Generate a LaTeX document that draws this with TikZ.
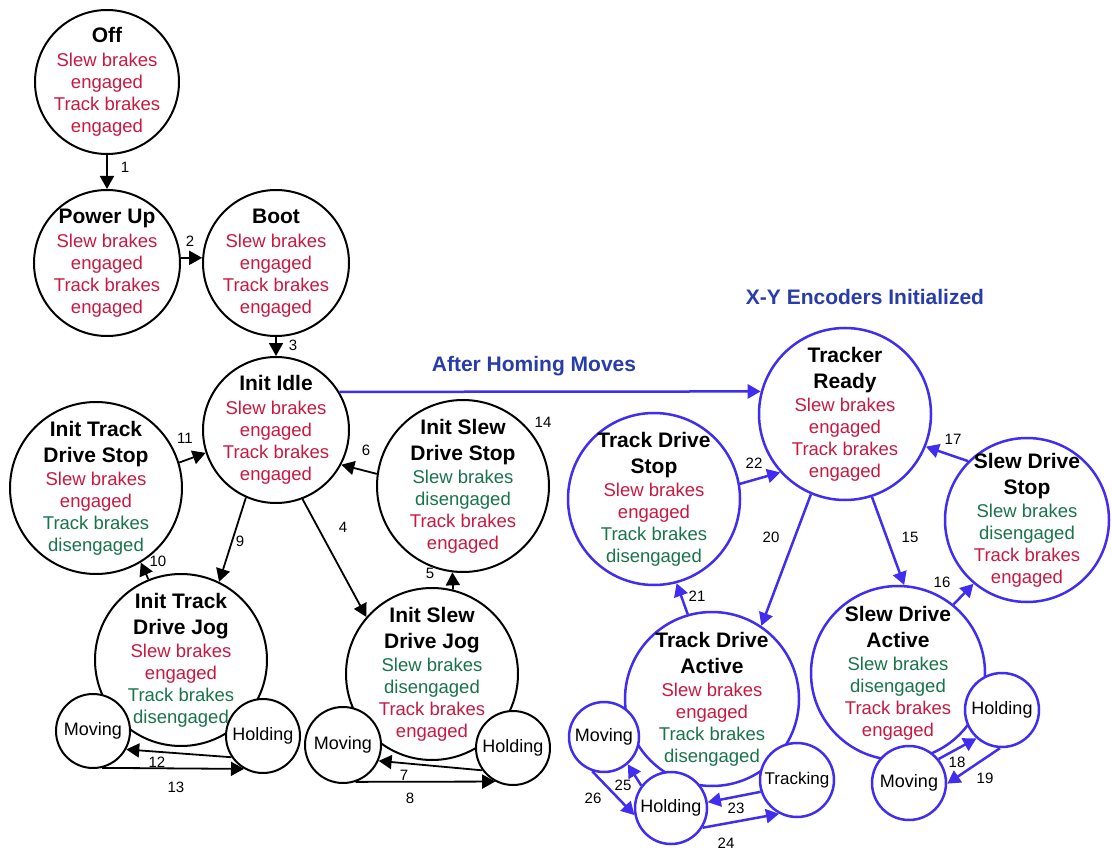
\documentclass[tikz,border=0pt]{standalone}
\usepackage{fontspec}
\setmainfont{Liberation Sans}
\usetikzlibrary{arrows.meta}
\definecolor{sred}{RGB}{200,25,65}
\definecolor{sgreen}{RGB}{25,115,75}
\definecolor{sblue}{RGB}{65,45,240}
\definecolor{tblue}{RGB}{40,60,170}
\newcommand\sttl[1]{{\fontsize{21}{26}\selectfont\bfseries #1}}
\newcommand\rtx[1]{\textcolor{sred}{#1}}
\newcommand\gtx[1]{\textcolor{sgreen}{#1}}
\begin{document}
\begin{tikzpicture}[x=1pt,y=-1pt,
  bst/.style={circle,draw=black,line width=2pt,fill=white,inner sep=0pt},
  ust/.style={circle,draw=sblue,line width=2.5pt,fill=white,inner sep=0pt},
  txt/.style={align=center,font=\fontsize{18.5}{22}\selectfont,inner sep=0pt},
  small/.style={font=\fontsize{18}{22}\selectfont},
  arr/.style={draw=black,line width=1.8pt,-{Triangle[length=13pt,width=14pt]}},
  uarr/.style={draw=sblue,line width=2.5pt,-{Triangle[length=13pt,width=14pt]}},
  num/.style={font=\fontsize{15}{17}\selectfont,inner sep=0pt},
  hdr/.style={font=\fontsize{21}{25}\selectfont\bfseries,text=tblue,inner sep=0pt}
]
\useasboundingbox[fill=white] (0,0) rectangle (1112,853);

% ---------- black states ----------
\node[bst,minimum size=144pt,label={[txt]center:{\sttl{Off}\\[2pt]\rtx{Slew brakes}\\\rtx{engaged}\\\rtx{Track brakes}\\\rtx{engaged}}}] (off) at (107,82) {};
\node[bst,minimum size=146pt,label={[txt]center:{\sttl{Power Up}\\[2pt]\rtx{Slew brakes}\\\rtx{engaged}\\\rtx{Track brakes}\\\rtx{engaged}}}] (pu) at (107,263) {};
\node[bst,minimum size=146pt,label={[txt]center:{\sttl{Boot}\\[2pt]\rtx{Slew brakes}\\\rtx{engaged}\\\rtx{Track brakes}\\\rtx{engaged}}}] (boot) at (276,263) {};
\node[bst,minimum size=146pt,label={[txt]center:{\sttl{Init Idle}\\[2pt]\rtx{Slew brakes}\\\rtx{engaged}\\\rtx{Track brakes}\\\rtx{engaged}}}] (idle) at (276,430) {};
\node[bst,minimum size=172pt,label={[txt]center:{\sttl{Init Track}\\[4pt]\sttl{Drive Stop}\\[1pt]\rtx{Slew brakes}\\\rtx{engaged}\\\gtx{Track brakes}\\\gtx{disengaged}}}] (itds) at (96,488) {};
\node[bst,minimum size=172pt,label={[txt]center:{\sttl{Init Slew}\\[4pt]\sttl{Drive Stop}\\[1pt]\gtx{Slew brakes}\\\gtx{disengaged}\\\rtx{Track brakes}\\\rtx{engaged}}}] (isds) at (463,486) {};
\node[bst,minimum size=172pt,label={[txt]center:{\sttl{Init Track}\\[4pt]\sttl{Drive Jog}\\[1pt]\rtx{Slew brakes}\\\rtx{engaged}\\\gtx{Track brakes}\\\gtx{disengaged}}}] (itdj) at (181,660) {};
\node[bst,minimum size=172pt,label={[txt]center:{\sttl{Init Slew}\\[4pt]\sttl{Drive Jog}\\[1pt]\gtx{Slew brakes}\\\gtx{disengaged}\\\rtx{Track brakes}\\\rtx{engaged}}}] (isdj) at (432,674) {};
\node[bst,small,minimum size=74pt] (movL) at (93,731) {Moving};
\node[bst,small,minimum size=74pt] (holdL) at (263,736) {Holding};
\node[bst,small,minimum size=76pt] (movM) at (343,745) {Moving};
\node[bst,small,minimum size=74pt] (holdM) at (513,748) {Holding};

% ---------- blue states ----------
\node[ust,minimum size=172pt,label={[txt]center:{\sttl{Tracker}\\[4pt]\sttl{Ready}\\[1pt]\rtx{Slew brakes}\\\rtx{engaged}\\\rtx{Track brakes}\\\rtx{engaged}}}] (tr) at (845,414) {};
\node[ust,minimum size=172pt,label={[txt]center:{\sttl{Track Drive}\\[4pt]\sttl{Stop}\\[1pt]\rtx{Slew brakes}\\\rtx{engaged}\\\gtx{Track brakes}\\\gtx{disengaged}}}] (tds) at (654,499) {};
\node[ust,minimum size=164pt,label={[txt]center:{\sttl{Slew Drive}\\[4pt]\sttl{Stop}\\[1pt]\gtx{Slew brakes}\\\gtx{disengaged}\\\rtx{Track brakes}\\\rtx{engaged}}}] (sds) at (1027,520) {};
\node[ust,minimum size=174pt,label={[txt]center:{\sttl{Track Drive}\\[4pt]\sttl{Active}\\[1pt]\rtx{Slew brakes}\\\rtx{engaged}\\\gtx{Track brakes}\\\gtx{disengaged}}}] (tda) at (712,699) {};
\node[ust,minimum size=174pt,label={[txt]center:{\sttl{Slew Drive}\\[4pt]\sttl{Active}\\[1pt]\gtx{Slew brakes}\\\gtx{disengaged}\\\rtx{Track brakes}\\\rtx{engaged}}}] (sda) at (898,673) {};
\node[ust,small,minimum size=70pt] (movT) at (604,737) {Moving};
\node[ust,small,minimum size=72pt] (holdT) at (671,808) {Holding};
\node[ust,font=\fontsize{17}{20}\selectfont,minimum size=74pt] (trk) at (797,780) {Tracking};
\node[ust,small,minimum size=74pt] (movS) at (909,783) {Moving};
\node[ust,small,minimum size=74pt] (holdS) at (1002,710) {Holding};

% ---------- headings ----------
\node[hdr] (hxy) at (865,297) {X-Y Encoders Initialized};
\node[hdr] (hhm) at (534,366) {After Homing Moves};

% ---------- black transitions ----------
\draw[arr] (off.south) -- (pu.north);
\draw[arr] (pu.4) -- (boot.176);
\draw[arr] (boot.south) -- (idle.north);
\draw[arr] (idle.-69) -- (isdj.139);
\draw[arr] (isdj.76.5) -- (isds.-97.6);
\draw[arr] (isds.172) -- (idle.-28.6);
\draw[arr] (holdM.216.6) -- (movM.-24.7);
\draw[arr] (movM.-71) -- (holdM.242);
\draw[arr] (idle.246) -- (itdj.64);
\draw[arr] (itdj.112) -- (itds.-59);
\draw[arr] (itds.17) -- (idle.198);
\draw[arr] (holdL.214) -- (movL.-29);
\draw[arr] (movL.-76) -- (holdL.240);

% ---------- blue transitions ----------
\draw[uarr] (idle.31.4) -- (tr.165.2);
\draw[uarr] (tr.-72.6) -- (sda.86);
\draw[uarr] (sda.51) -- (sds.230);
\draw[uarr] (sds.135) -- (tr.-22.5);
\draw[uarr] (movS.39.6) -- (holdS.228);
\draw[uarr] (holdS.267) -- (movS.-1.5);
\draw[uarr] (tr.247.7) -- (tda.56);
\draw[uarr] (tda.106.6) -- (tds.-75);
\draw[uarr] (tds.10) -- (tr.222);
\draw[uarr] (trk.198) -- (holdT.9);
\draw[uarr] (holdT.-32) -- (trk.242);
\draw[uarr] (holdT.143) -- (movT.-49);
\draw[uarr] (movT.251) -- (holdT.191);

% ---------- transition numbers ----------
\node[num] (n1) at (125,167) {1};
\node[num] (n2) at (190,241) {2};
\node[num] (n3) at (293,345) {3};
\node[num] (n4) at (343,527) {4};
\node[num] (n5) at (430,573) {5};
\node[num] (n6) at (366,450) {6};
\node[num] (n7) at (404,775) {7};
\node[num] (n8) at (410,798) {8};
\node[num] (n9) at (240,541) {9};
\node[num] (n10) at (158,561) {10};
\node[num] (n11) at (185,438) {11};
\node[num] (n12) at (157,762) {12};
\node[num] (n13) at (176,787) {13};
\node[num] (n14) at (543,422) {14};
\node[num] (n15) at (910,537) {15};
\node[num] (n16) at (942,582) {16};
\node[num] (n17) at (953,439) {17};
\node[num] (n18) at (957,762) {18};
\node[num] (n19) at (985,778) {19};
\node[num] (n20) at (771,537) {20};
\node[num] (n21) at (697,596) {21};
\node[num] (n22) at (754,463) {22};
\node[num] (n23) at (736,808) {23};
\node[num] (n24) at (726,843) {24};
\node[num] (n25) at (623,785) {25};
\node[num] (n26) at (593,798) {26};
\end{tikzpicture}
\end{document}
